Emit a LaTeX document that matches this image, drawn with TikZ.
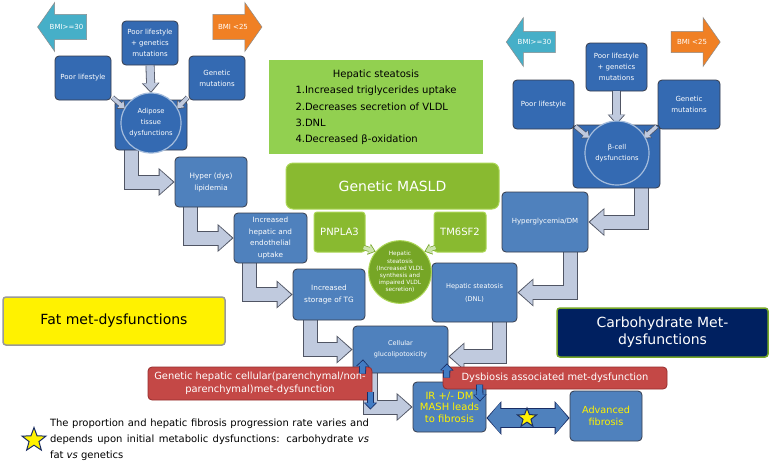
\documentclass[tikz,border=0pt]{standalone}
\usepackage{fontspec}
\setmainfont{DejaVu Sans}
\usetikzlibrary{arrows.meta,shapes.arrows,shapes.geometric}
\pgfdeclarelayer{back}
\pgfsetlayers{back,main}

\definecolor{topblue}{RGB}{52,106,178}
\definecolor{boxblue}{RGB}{79,129,189}
\definecolor{boxedge}{RGB}{55,60,75}
\definecolor{arrowfill}{RGB}{192,202,222}
\definecolor{arrowedge}{RGB}{80,85,100}
\definecolor{listgreen}{RGB}{146,208,80}
\definecolor{genegreen}{RGB}{137,186,48}
\definecolor{geneedge}{RGB}{172,214,86}
\definecolor{circgreen}{RGB}{118,166,38}
\definecolor{palegreen}{RGB}{205,228,175}
\definecolor{redbox}{RGB}{196,72,70}
\definecolor{rededge}{RGB}{150,45,45}
\definecolor{navybox}{RGB}{0,32,96}
\definecolor{cyanarrow}{RGB}{70,175,200}
\definecolor{orangearrow}{RGB}{240,128,36}
\definecolor{starblue}{RGB}{25,45,100}
\definecolor{midblue}{RGB}{66,124,196}

\newcommand{\fsz}[2]{\fontsize{#1}{#2}\selectfont}

\begin{document}
\begin{tikzpicture}[x=1pt,y=-1pt]
  \tikzstyle{blue box}=[rectangle,rounded corners=4pt,draw=boxedge,line width=0.8pt,fill=boxblue,text=white,align=center,inner sep=1pt,font=\fsz{7}{11}]
  \tikzstyle{top box}=[blue box,fill=topblue]
  \tikzstyle{dys circle}=[circle,draw=topblue!45!white,line width=1.2pt,fill=topblue,text=white,align=center,inner sep=0pt,font=\fsz{6.8}{11}]
  \tikzstyle{bmi arrow}=[single arrow,draw=black!45,line width=0.5pt,minimum height=49pt,minimum width=49pt,single arrow head extend=11pt,single arrow tip angle=110,text=white,font=\fsz{7}{8},inner xsep=1pt,inner ysep=9pt]
  \tikzstyle{gene box}=[rectangle,rounded corners=3pt,draw=geneedge,line width=1pt,fill=genegreen,text=white,align=center]
  \tikzstyle{red box}=[rectangle,rounded corners=4pt,draw=rededge,line width=0.8pt,fill=redbox,text=white,align=center,inner sep=1pt,font=\fsz{9.9}{13}]
  \tikzstyle{title box}=[rectangle,rounded corners=3pt,line width=1.5pt,align=center,font=\fsz{14}{17}]
  \tikzstyle{fat arrow}=[draw=arrowedge,line width=15pt,-{Triangle[length=16pt,width=27pt]},postaction={draw=arrowfill,line width=13pt,shorten >=1.6pt,-{Triangle[length=13.5pt,width=23.5pt]}}]
  \tikzstyle{small arrow}=[draw=arrowedge,line width=9pt,-{Triangle[length=10pt,width=17pt]},postaction={draw=arrowfill,line width=7.4pt,shorten >=1.4pt,-{Triangle[length=8.4pt,width=14.4pt]}}]
  \tikzstyle{tiny arrow}=[draw=arrowedge,line width=5pt,-{Triangle[length=7pt,width=11pt]},postaction={draw=arrowfill,line width=3.6pt,shorten >=1.2pt,-{Triangle[length=5.6pt,width=8.6pt]}}]
  \tikzstyle{green arrow}=[draw=circgreen,line width=5pt,-{Triangle[length=7pt,width=11pt]},postaction={draw=palegreen,line width=3.6pt,shorten >=1.2pt,-{Triangle[length=5.6pt,width=8.6pt]}}]
  \tikzstyle{blue arrow}=[draw=starblue,line width=7pt,-{Triangle[length=7pt,width=13pt]},postaction={draw=midblue,line width=5.4pt,shorten >=1.2pt,-{Triangle[length=5.6pt,width=10.6pt]}}]
  \tikzstyle{both arrow}=[draw=starblue,line width=20pt,{Triangle[length=15pt,width=33pt]}-{Triangle[length=15pt,width=33pt]},postaction={draw=boxblue,line width=18pt,shorten >=1.4pt,shorten <=1.4pt,{Triangle[length=12.6pt,width=30pt]}-{Triangle[length=12.6pt,width=30pt]}}]
  \tikzstyle{yellow star}=[star,star points=5,star point ratio=2.4,fill=yellow,draw=starblue,line width=1pt,inner sep=0pt]

  \useasboundingbox (0,0) rectangle (771,467);

  % fat side
  \node[bmi arrow,fill=cyanarrow,shape border rotate=180] (bmihiL) at (66.5,27) {BMI>=30};
  \node[bmi arrow,fill=orangearrow] (bmiloL) at (233,27) {BMI <25};
  \node[top box,minimum width=56pt,minimum height=44pt] (bothL) at (150,43) {Poor lifestyle\\+ genetics\\mutations};
  \node[top box,minimum width=56pt,minimum height=44pt] (lifeL) at (83,78) {Poor lifestyle};
  \node[top box,minimum width=56pt,minimum height=44pt] (geneL) at (217,78) {Genetic\\mutations};
  \node[top box,minimum width=72pt,minimum height=50pt] (adiposq) at (151,125) {};
  \draw[small arrow] (bothL.south) -- ([yshift=32pt]adiposq.center);
  \draw[tiny arrow] ([shift={(1,-3)}]lifeL.south east) -- ([shift={(-25.4,-15.9)}]adiposq.center);
  \draw[tiny arrow] ([shift={(-1,-3)}]geneL.south west) -- ([shift={(25.4,-15.9)}]adiposq.center);
  \node[dys circle,minimum size=60pt] (adipose) at (151,123) {Adipose\\tissue\\dysfunctions};
  \node[blue box,minimum width=72pt,minimum height=50pt,font=\fsz{7.3}{12}] (hyper) at (211,182) {Hyper (dys)\\lipidemia};
  \node[blue box,minimum width=73pt,minimum height=50pt,font=\fsz{7.3}{11.5}] (uptake) at (270.5,238) {Increased\\hepatic and\\endothelial\\uptake};
  \node[blue box,minimum width=72pt,minimum height=51pt,font=\fsz{7.3}{11.5}] (storage) at (329,294.5) {Increased\\storage of TG};
  \node[blue box,minimum width=95pt,minimum height=47pt,font=\fsz{6.5}{11}] (cell) at (400.5,349.5) {Cellular\\glucolipotoxicity};
  \node[title box,fill=yellow,draw=black!40,minimum width=222pt,minimum height=48pt] (fatbox) at (114,321) {Fat met-dysfunctions};

  % carbohydrate side
  \node[bmi arrow,fill=cyanarrow,shape border rotate=180,inner ysep=7pt,single arrow head extend=13pt] (bmihiR) at (534.5,42) {BMI>=30};
  \node[bmi arrow,fill=orangearrow,inner ysep=7pt,single arrow head extend=13pt] (bmiloR) at (692,42) {BMI <25};
  \node[top box,minimum width=61pt,minimum height=48pt] (bothR) at (616.5,67) {Poor lifestyle\\+ genetics\\mutations};
  \node[top box,minimum width=61pt,minimum height=49pt] (lifeR) at (543.5,104.5) {Poor lifestyle};
  \node[top box,minimum width=62pt,minimum height=49pt] (geneR) at (689,104.5) {Genetic\\mutations};
  \node[top box,minimum width=87pt,minimum height=63pt] (betasq) at (616.5,156.5) {};
  \draw[small arrow] (bothR.south) -- ([yshift=32pt]betasq.center);
  \draw[tiny arrow] ([shift={(1,-3)}]lifeR.south east) -- ([shift={(-26.5,-18)}]betasq.center);
  \draw[tiny arrow] ([shift={(-1,-3)}]geneR.south west) -- ([shift={(26.5,-18)}]betasq.center);
  \node[dys circle,minimum size=64pt] (beta) at (617,153) {β-cell\\dysfunctions};
  \node[blue box,minimum width=86pt,minimum height=60pt] (hyperglyc) at (545,222) {Hyperglycemia/DM};
  \node[blue box,minimum width=85pt,minimum height=59pt,font=\fsz{6.6}{13}] (dnl) at (474.5,292.5) {Hepatic steatosis\\(DNL)};
  \node[title box,fill=navybox,draw=circgreen,text=white,minimum width=211pt,minimum height=49pt] (carbbox) at (662.5,332.5) {Carbohydrate Met-\\dysfunctions};

  % genetic middle
  \node[rectangle,fill=listgreen,minimum width=214pt,minimum height=94pt,font=\fsz{10}{16.3}] (steatlist) at (376,107) {\begin{tabular}{@{}l@{}}
      \multicolumn{1}{@{}c@{}}{Hepatic steatosis}\\
      1.Increased triglycerides uptake\\
      2.Decreases secretion of VLDL\\
      3.DNL\\
      4.Decreased β-oxidation\\
    \end{tabular}};
  \node[gene box,rounded corners=7pt,minimum width=213pt,minimum height=46pt,font=\fsz{14}{17}] (masld) at (392.5,186) {Genetic MASLD};
  \node[gene box,minimum width=51pt,minimum height=40pt,font=\fsz{10}{12}] (pnpla) at (339.5,232) {PNPLA3};
  \node[gene box,minimum width=52pt,minimum height=40pt,font=\fsz{10}{12}] (tmsf) at (460,232) {TM6SF2};
  \node[circle,fill=circgreen,draw=geneedge,line width=1pt,minimum size=54pt,inner sep=0pt,text=white,align=center,font=\fsz{5.8}{7.2}] (hscirc) at (400,272) {Hepatic\\steatosis\\(Increased VLDL\\synthesis and\\impaired VLDL\\secretion)};
  \draw[green arrow] ([shift={(-2,-5)}]pnpla.south east) -- (hscirc.140);
  \draw[green arrow] ([shift={(2,-5)}]tmsf.south west) -- (hscirc.40);

  % bottom
  \node[blue box,minimum width=73pt,minimum height=50pt,text=yellow,font=\fsz{10}{11.5}] (ir) at (449.5,407) {IR +/- DM\\MASH leads\\to fibrosis};
  \node[blue box,minimum width=72pt,minimum height=50pt,text=yellow,font=\fsz{9.7}{12}] (adv) at (606,416) {Advanced\\fibrosis};
  \node[red box,minimum width=224pt,minimum height=33pt] (genred) at (260,383.5) {Genetic hepatic cellular(parenchymal/non-\\parenchymal)met-dysfunction};
  \node[red box,minimum width=224pt,minimum height=22pt] (dysred) at (555,378) {Dysbiosis associated met-dysfunction};
  \node[yellow star,minimum size=20pt] (midstar) at (527,418) {};
  \node[yellow star,minimum size=25pt] (legstar) at (34,440) {};
  \node[text width=319pt,align=justify,inner sep=0pt,font=\fsz{10}{16}] (legend) at (209.5,440) {The proportion and hepatic fibrosis progression rate varies and depends upon initial metabolic dysfunctions: carbohydrate \textit{vs} fat \textit{vs} genetics};

  \begin{pgfonlayer}{back}
    \fill[white] (0,0) rectangle (771,467);
    \draw[fat arrow] ([xshift=-20pt]adiposq.south) |- (hyper.west);
    \draw[fat arrow] ([xshift=-21pt]hyper.south) |- (uptake.west);
    \draw[fat arrow] ([xshift=-21pt]uptake.south) |- (storage.west);
    \draw[fat arrow] ([xshift=-19pt]storage.south) |- (cell.west);
    \draw[fat arrow] ([xshift=-30pt]cell.south) |- (ir.west);
    \draw[fat arrow] ([xshift=25pt]betasq.south) |- (hyperglyc.east);
    \draw[fat arrow] ([xshift=25pt]hyperglyc.south) |- (dnl.east);
    \draw[fat arrow] ([xshift=25pt]dnl.south) |- ([yshift=-7pt]cell.east);
    \draw[both arrow] (ir.east |- midstar) -- (adv.west |- midstar);
  \end{pgfonlayer}

  \draw[blue arrow] ([shift={(-10,7)}]genred.north east) -- ([shift={(-37.5,-14)}]cell.south);
  \draw[blue arrow] ([shift={(-2,25)}]genred.north east) -- ([shift={(-2,43)}]genred.north east);
  \draw[blue arrow] ([shift={(4,11)}]dysred.north west) -- ([shift={(46.5,-10)}]cell.south);
  \draw[blue arrow] ([shift={(37,18)}]dysred.north west) -- ([shift={(30.5,20)}]ir.north);
\end{tikzpicture}
\end{document}
